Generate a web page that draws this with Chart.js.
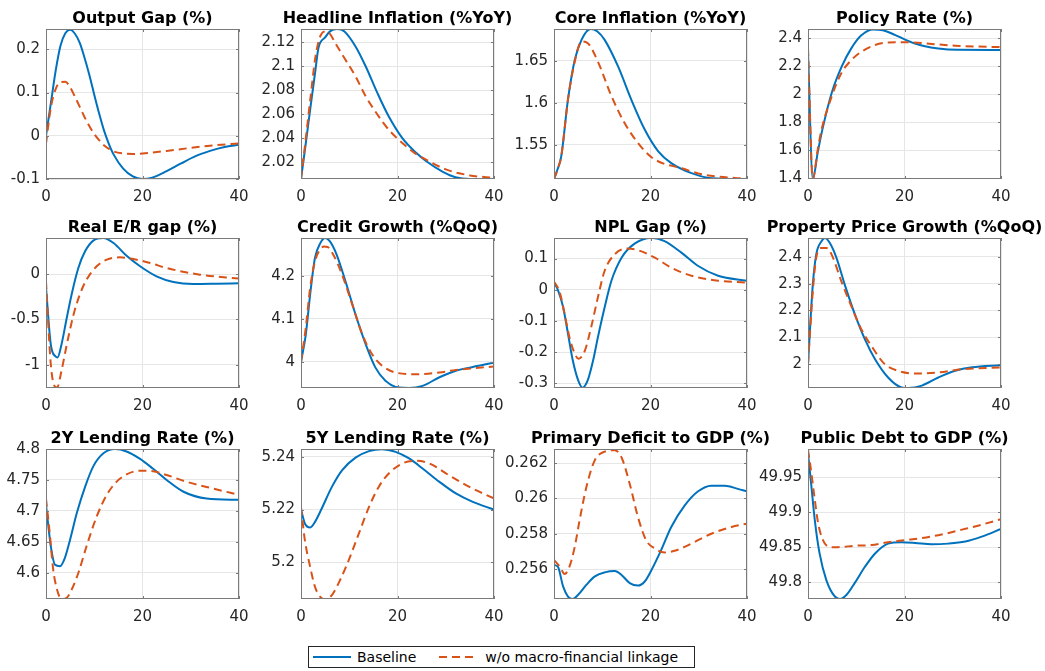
<!DOCTYPE html>
<html>
<head>
<meta charset="utf-8">
<title>Macro-financial linkage IRFs</title>
<script src="https://cdn.jsdelivr.net/npm/chart.js@4.4.1/dist/chart.umd.min.js"></script>
<style>
    html, body { margin: 0; padding: 0; background: #fff; }
    body { width: 1045px; height: 671px; position: relative; overflow: hidden; font-family: 'DejaVu Sans', sans-serif; }
    canvas.panel { position: absolute; }
    #legend {
        position: absolute; left: 308px; top: 646px; width: 385px; height: 20px;
        border: 1px solid #262626; display: flex; align-items: center;
        font-size: 14px; color: #000; white-space: nowrap;
    }
    .swatch { display: inline-block; width: 38px; height: 2px; }
    .solid { background: #0072BD; margin: 0 6px 0 4px; }
    .dashed { background: repeating-linear-gradient(to right, #D95319 0 8px, transparent 8px 13px); margin: 0 8px 0 23px; }
</style>
</head>
<body>
<div id="legend">
    <span class="swatch solid"></span><span id="lab0"></span>
    <span class="swatch dashed"></span><span id="lab1"></span>
</div>
<script>
// ---- data (quarters after shock, value) ----
const seriesNames = ['Baseline', 'w/o macro-financial linkage'];
const horizonTicks = [0, 20, 40];

const titles = [
    'Output Gap (%)', 'Headline Inflation (%YoY)', 'Core Inflation (%YoY)', 'Policy Rate (%)',
    'Real E/R gap (%)', 'Credit Growth (%QoQ)', 'NPL Gap (%)', 'Property Price Growth (%QoQ)',
    '2Y Lending Rate (%)', '5Y Lending Rate (%)', 'Primary Deficit to GDP (%)', 'Public Debt to GDP (%)'
];

const outputGapBase = [[0,0],[1,0.075],[2,0.15],[3,0.208],[4,0.237],[5,0.245],[6,0.236],[7,0.215],[8,0.18],[9,0.14],[10,0.095],[11,0.052],[12,0.013],[13,-0.018],[14,-0.043],[16,-0.076],[18,-0.094],[20,-0.1],[22,-0.097],[25,-0.082],[28,-0.064],[31,-0.047],[34,-0.035],[37,-0.026],[40,-0.021]];
const outputGapAlt = [[0,-0.018],[1,0.065],[2,0.108],[3,0.124],[4,0.125],[5,0.112],[6,0.09],[7,0.067],[8,0.043],[9,0.022],[10,0.004],[11,-0.01],[12,-0.022],[14,-0.036],[16,-0.041],[18,-0.042],[20,-0.041],[25,-0.035],[30,-0.028],[35,-0.022],[40,-0.018]];

const headlineBase = [[0,2.006],[1,2.036],[2,2.067],[3,2.097],[3.6,2.115],[5,2.124],[6,2.129],[7.5,2.131],[9,2.129],[11.3,2.1165],[13.4,2.1],[15.8,2.078],[18.2,2.058],[21,2.04],[23.8,2.028],[25.9,2.021],[29.4,2.012],[32,2.0075],[35,2.006],[40,2.006]];
const headlineAlt = [[0,2.006],[1,2.04],[2,2.075],[3,2.108],[4,2.125],[5,2.129],[6,2.127],[7,2.12],[8.8,2.108],[11.3,2.0915],[13.4,2.075],[15.8,2.06],[18.2,2.047],[21,2.036],[23.8,2.027],[26,2.022],[30,2.014],[35,2.009],[40,2.007]];

const coreBase = [[0,1.509],[0.7,1.52],[1.5,1.536],[2.9,1.604],[4.3,1.651],[5.7,1.675],[7.6,1.688],[9,1.685],[10.5,1.675],[13.3,1.643],[16,1.604],[18.8,1.568],[21.6,1.542],[24.3,1.528],[28.5,1.516],[32.6,1.51],[40,1.509]];
const coreAlt = [[0,1.509],[0.7,1.52],[1.5,1.536],[2.9,1.604],[4.3,1.649],[5.7,1.673],[7,1.671],[9.1,1.649],[11.9,1.608],[14.6,1.576],[17.4,1.552],[20.2,1.535],[22.9,1.527],[25.7,1.523],[31.2,1.514],[38,1.51],[40,1.5095]];

const policyBase = [[0,2.3],[1,1.393],[2,1.58],[3,1.75],[5,2.02],[7,2.2],[9,2.33],[11,2.42],[13.5,2.464],[15.5,2.458],[18,2.425],[20,2.393],[22,2.365],[24,2.345],[27,2.327],[31,2.318],[40,2.317]];
const policyAlt = [[0,2.33],[1,1.393],[2,1.6],[2.8,1.745],[4.9,1.983],[6.9,2.15],[9,2.245],[11.1,2.305],[13.9,2.352],[16.6,2.371],[20.1,2.373],[23.6,2.366],[30.5,2.347],[40,2.337]];

const realErBase = [[0,-0.15],[1,-0.78],[2,-0.91],[2.4,-0.92],[3.2,-0.78],[4.3,-0.485],[5.3,-0.228],[6.7,0.066],[8.1,0.25],[9.8,0.368],[11.9,0.397],[14,0.342],[16.7,0.2],[19.5,0.085],[22.9,-0.026],[26.4,-0.088],[30.5,-0.11],[35.4,-0.107],[40,-0.103]];
const realErAlt = [[0,-0.08],[1,-1.0],[1.9,-1.245],[2.3,-1.25],[3.2,-1.07],[4.3,-0.78],[5.7,-0.45],[7,-0.228],[8.4,-0.0625],[10.5,0.085],[12.6,0.158],[15.3,0.184],[18.1,0.165],[21.6,0.121],[25,0.066],[31.9,-0.007],[40,-0.051]];

const creditBase = [[0,4.0],[1,4.064],[1.9,4.157],[2.9,4.242],[4,4.276],[5,4.288],[6,4.28],[7.4,4.249],[9.2,4.188],[11.3,4.11],[13.4,4.041],[15.4,3.987],[17.5,3.956],[20.3,3.94],[22.4,3.939],[25.2,3.944],[28.7,3.964],[32.1,3.979],[35.6,3.988],[40,3.998]];
const creditAlt = [[0,4.0],[1,4.08],[1.9,4.172],[2.9,4.234],[4,4.262],[4.8,4.268],[5.5,4.267],[6.7,4.249],[8.5,4.203],[10.6,4.134],[12.7,4.064],[14.7,4.018],[16.8,3.991],[19.6,3.975],[23.8,3.971],[28.7,3.975],[32.1,3.981],[40,3.989]];

const nplBase = [[0,0.023],[0.8,0.0],[1.9,-0.056],[2.9,-0.141],[3.9,-0.227],[5,-0.29],[5.9,-0.314],[7,-0.29],[8.1,-0.227],[9.1,-0.152],[10.5,-0.056],[11.9,0.029],[14,0.103],[16.7,0.148],[20.2,0.167],[22.9,0.156],[26.4,0.119],[29.8,0.077],[34,0.045],[40,0.029]];
const nplAlt = [[0,0.027],[1.2,-0.009],[2.2,-0.078],[3.2,-0.152],[4.3,-0.205],[5.1,-0.221],[6.4,-0.195],[7.7,-0.12],[9.1,-0.024],[10.5,0.061],[12.6,0.114],[15,0.132],[17.4,0.127],[20.9,0.103],[24.3,0.071],[28.5,0.045],[34,0.029],[40,0.023]];

const propertyBase = [[0,2.0],[1,2.297],[1.7,2.408],[2.8,2.458],[3.5,2.47],[4.5,2.452],[5.9,2.396],[7.6,2.297],[9.7,2.186],[11.8,2.092],[13.9,2.018],[16.6,1.95],[19.4,1.913],[20.8,1.911],[23.6,1.92],[27,1.95],[30.5,1.975],[34,1.988],[40,1.996]];
const propertyAlt = [[0,2.0],[1,2.272],[1.7,2.396],[2.8,2.433],[3.8,2.433],[4.9,2.408],[6.9,2.309],[9,2.215],[11.1,2.128],[13.2,2.066],[15.9,2.0],[18.7,1.975],[22.2,1.965],[27,1.969],[31.9,1.981],[40,1.988]];

const lend2yBase = [[0,4.71],[1,4.643],[1.9,4.613],[2.9,4.611],[3.9,4.624],[5,4.654],[6.4,4.697],[8.1,4.739],[9.8,4.772],[11.9,4.793],[14.3,4.8],[16.7,4.796],[19.5,4.784],[22.2,4.768],[25,4.75],[28.5,4.731],[33.3,4.72],[40,4.718]];
const lend2yAlt = [[0,4.72],[0.7,4.67],[1.5,4.605],[2.3,4.573],[3.2,4.558],[4.3,4.56],[5.3,4.573],[6.7,4.6],[8.4,4.643],[10.5,4.691],[12.6,4.726],[14.6,4.747],[16.7,4.759],[19.5,4.765],[22.2,4.764],[25,4.758],[29.2,4.747],[34.7,4.736],[40,4.726]];

const lend5yBase = [[0,5.22],[0.8,5.2147],[1.9,5.2132],[2.9,5.2153],[4.3,5.2204],[6.4,5.2286],[8.5,5.2349],[11.3,5.2397],[14.1,5.2422],[16.8,5.2429],[19.6,5.2419],[22.4,5.2394],[25.2,5.2356],[28.7,5.2305],[32.1,5.2261],[35.6,5.2229],[40,5.22]];
const lend5yAlt = [[0,5.2208],[0.8,5.2084],[1.9,5.1982],[2.9,5.1906],[4,5.1868],[5,5.1858],[6.4,5.1875],[8.1,5.1932],[9.9,5.2008],[12,5.2109],[14.1,5.221],[16.1,5.2286],[18.2,5.2337],[21,5.2375],[23.8,5.2385],[26.6,5.2375],[30.7,5.233],[34.9,5.2286],[40,5.2242]];

const deficitBase = [[0,0.25623],[0.8,0.25613],[1.9,0.255],[2.9,0.25444],[3.9,0.2543],[5,0.25454],[6.7,0.2551],[8.4,0.25557],[10.5,0.25581],[12.6,0.25589],[14,0.25566],[15.7,0.2552],[17.4,0.25506],[18.8,0.25529],[20.2,0.25594],[22.2,0.25707],[24.3,0.25838],[27.1,0.2596],[29.8,0.26039],[32.6,0.26072],[35.4,0.26072],[38.1,0.26054],[40,0.2604]];
const deficitAlt = [[0,0.25651],[1.2,0.25613],[2.2,0.25572],[3.2,0.25613],[4.3,0.25726],[5.3,0.25876],[6.7,0.26063],[8.4,0.26213],[10.5,0.26265],[12.6,0.26273],[14,0.26232],[15.7,0.26082],[17.4,0.25894],[19.1,0.25763],[20.9,0.25716],[22.9,0.25694],[25,0.25703],[28.5,0.25744],[32.6,0.258],[36.8,0.25838],[40,0.25857]];

const debtBase = [[0,49.984],[0.7,49.937],[1.4,49.889],[2.4,49.841],[3.8,49.803],[5.5,49.78],[6.6,49.776],[8,49.782],[9.7,49.799],[11.8,49.822],[13.9,49.841],[16.6,49.855],[19.4,49.857],[22.2,49.856],[25.6,49.854],[29.1,49.855],[32.6,49.858],[36,49.865],[40,49.876]];
const debtAlt = [[0,49.989],[0.7,49.956],[1.4,49.918],[2.1,49.884],[3.1,49.86],[4.5,49.85],[6.2,49.85],[9.7,49.852],[13.2,49.853],[16.6,49.857],[20.1,49.86],[23.6,49.863],[27.7,49.868],[31.9,49.875],[36,49.882],[40,49.89]];

const yLimits = [
    [-0.1, 0.247], [2.006, 2.131], [1.509, 1.688], [1.393, 2.467],
    [-1.257, 0.397], [3.939, 4.288], [-0.315, 0.166], [1.911, 2.47],
    [4.558, 4.8], [5.186, 5.243], [0.2543, 0.2628], [49.776, 49.99]
];
const yTickValues = [
    [-0.1, 0, 0.1, 0.2], [2.02, 2.04, 2.06, 2.08, 2.1, 2.12], [1.55, 1.6, 1.65], [1.4, 1.6, 1.8, 2, 2.2, 2.4],
    [-1, -0.5, 0], [4, 4.1, 4.2], [-0.3, -0.2, -0.1, 0, 0.1], [2, 2.1, 2.2, 2.3, 2.4],
    [4.6, 4.65, 4.7, 4.75, 4.8], [5.2, 5.22, 5.24], [0.256, 0.258, 0.26, 0.262], [49.8, 49.85, 49.9, 49.95]
];

const baseSeries = [outputGapBase, headlineBase, coreBase, policyBase, realErBase, creditBase, nplBase, propertyBase, lend2yBase, lend5yBase, deficitBase, debtBase];
const altSeries = [outputGapAlt, headlineAlt, coreAlt, policyAlt, realErAlt, creditAlt, nplAlt, propertyAlt, lend2yAlt, lend5yAlt, deficitAlt, debtAlt];

// ---- layout ----
const colLeft = [46, 301, 554, 808];
const rowTop = [29, 238, 449];
const PLOT_W = 193, PLOT_H = 150;
// a blank right axis as wide as the left one keeps the plot centred in the canvas,
// so the full-width title sits centred over the axes without being squeezed
const AXIS_W = 52, TITLE_H = 29, XAXIS_H = 30;

const BLUE = '#0072BD';
const ORANGE = '#D95319';

document.getElementById('lab0').textContent = seriesNames[0];
document.getElementById('lab1').textContent = seriesNames[1];

// box around the axes + inward tick marks, matlab style
const framePlugin = {
    id: 'frame',
    afterDraw(chart) {
        const { ctx, chartArea: a, scales } = chart;
        ctx.save();
        ctx.strokeStyle = '#7a7a7a';
        ctx.lineWidth = 1;
        ctx.strokeRect(a.left + 0.5, a.top + 0.5, a.right - a.left - 1, a.bottom - a.top - 1);
        ctx.beginPath();
        scales.y.ticks.forEach(t => {
            const py = Math.round(scales.y.getPixelForValue(t.value)) + 0.5;
            ctx.moveTo(a.left, py); ctx.lineTo(a.left + 3, py);
            ctx.moveTo(a.right - 3, py); ctx.lineTo(a.right, py);
        });
        scales.x.ticks.forEach(t => {
            const px = Math.round(scales.x.getPixelForValue(t.value)) + 0.5;
            ctx.moveTo(px, a.bottom); ctx.lineTo(px, a.bottom - 3);
            ctx.moveTo(px, a.top); ctx.lineTo(px, a.top + 3);
        });
        ctx.stroke();
        ctx.restore();
    }
};

function toPoints(pairs) {
    return pairs.map(p => ({ x: p[0], y: p[1] }));
}

titles.forEach((title, i) => {
    const canvas = document.createElement('canvas');
    canvas.className = 'panel';
    canvas.width = AXIS_W + PLOT_W + AXIS_W;
    canvas.height = TITLE_H + PLOT_H + XAXIS_H;
    canvas.style.left = (colLeft[i % 4] - AXIS_W) + 'px';
    canvas.style.top = (rowTop[Math.floor(i / 4)] - TITLE_H) + 'px';
    document.body.appendChild(canvas);

    const ticksY = yTickValues[i];

    const config = {
        type: 'line',
        data: {
            datasets: [
                {
                    label: seriesNames[0],
                    data: toPoints(baseSeries[i]),
                    borderColor: BLUE,
                    borderWidth: 2,
                    pointRadius: 0,
                    cubicInterpolationMode: 'monotone',
                    order: 2
                },
                {
                    label: seriesNames[1],
                    data: toPoints(altSeries[i]),
                    borderColor: ORANGE,
                    borderWidth: 2,
                    borderDash: [8, 5],
                    pointRadius: 0,
                    cubicInterpolationMode: 'monotone',
                    order: 1
                }
            ]
        },
        options: {
            responsive: false,
            animation: false,
            devicePixelRatio: 1,
            layout: { padding: 0 },
            plugins: {
                legend: { display: false },
                tooltip: { enabled: false },
                title: {
                    display: true,
                    text: title,
                    color: '#000',
                    font: { family: 'DejaVu Sans', size: 16, weight: 'bold', lineHeight: 1 },
                    padding: { top: 11, bottom: 2 }
                }
            },
            scales: {
                x: {
                    type: 'linear',
                    min: 0,
                    max: 40,
                    afterBuildTicks: s => { s.ticks = horizonTicks.map(v => ({ value: v })); },
                    afterFit: s => { s.height = XAXIS_H; },
                    grid: { color: '#e6e6e6', drawTicks: false },
                    border: { display: false },
                    ticks: {
                        color: '#262626',
                        padding: 9,
                        maxRotation: 0,
                        font: { family: 'DejaVu Sans', size: 15 }
                    }
                },
                y: {
                    min: yLimits[i][0],
                    max: yLimits[i][1],
                    afterBuildTicks: s => { s.ticks = ticksY.map(v => ({ value: v })); },
                    afterFit: s => { s.width = AXIS_W; },
                    grid: { color: '#e6e6e6', drawTicks: false },
                    border: { display: false },
                    ticks: {
                        color: '#262626',
                        padding: 6,
                        font: { family: 'DejaVu Sans', size: 15 },
                        callback: v => String(v)
                    }
                },
                spacer: {
                    position: 'right',
                    afterFit: s => { s.width = AXIS_W; },
                    grid: { display: false },
                    border: { display: false },
                    ticks: { display: false }
                }
            }
        },
        plugins: [framePlugin]
    };

    new Chart(canvas.getContext('2d'), config);
});
</script>
</body>
</html>
